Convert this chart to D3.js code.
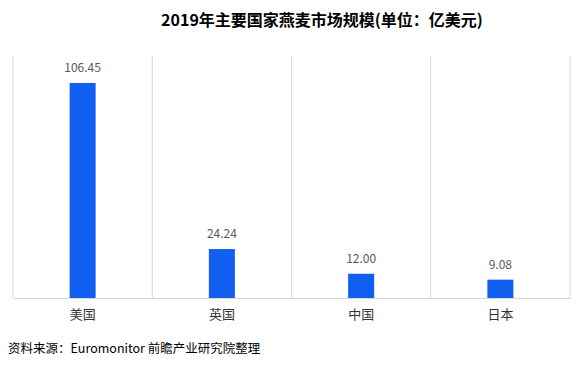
<!DOCTYPE html>
<html><head><meta charset="utf-8">
<script src="https://cdn.jsdelivr.net/npm/d3@7"></script>
<style>body{margin:0;background:#fff}</style>
</head><body>
<script>
const categories = ["美国", "英国", "中国", "日本"];
const values = [106.45, 24.24, 12.00, 9.08];
const valueLabels = ["106.45", "24.24", "12.00", "9.08"];
const title = "2019年主要国家燕麦市场规模(单位：亿美元)";
const source = "资料来源：Euromonitor 前瞻产业研究院整理";

const W = 588, H = 370;
const svg = d3.select("body").append("svg").attr("width", W).attr("height", H);
const font = "'Noto Sans CJK SC', 'Microsoft YaHei', sans-serif";

const x = d3.scaleBand().domain(categories).range([13, 570]).paddingInner(0).paddingOuter(0);
const y = d3.scaleLinear().domain([0, 119.8]).range([298, 56]);

// vertical separators
const seps = [0, 1, 2, 3, 4].map(i => 13 + i * x.bandwidth());
svg.selectAll("line.sep").data(seps).enter().append("line")
  .attr("x1", d => d).attr("x2", d => d).attr("y1", y(119.8)).attr("y2", y(0))
  .attr("stroke", "#d9d9d9").attr("stroke-width", 1);

// baseline axis
const ax = svg.append("g").attr("transform", `translate(0,${y(0)})`)
  .call(d3.axisBottom(x).tickSize(0).tickPadding(12));
ax.select(".domain").attr("stroke", "#d9d9d9");
ax.selectAll("text").attr("font-family", font).attr("font-size", 13).attr("fill", "#333");

const bw = 26;
svg.selectAll("rect.bar").data(values).enter().append("rect")
  .attr("x", (d, i) => x(categories[i]) + x.bandwidth() / 2 - bw / 2)
  .attr("width", bw)
  .attr("y", d => y(d)).attr("height", d => y(0) - y(d))
  .attr("fill", "#105ff0");

svg.selectAll("text.val").data(values).enter().append("text")
  .attr("x", (d, i) => x(categories[i]) + x.bandwidth() / 2)
  .attr("y", d => y(d) - 11)
  .attr("text-anchor", "middle")
  .attr("font-family", font).attr("font-size", 12).attr("fill", "#595959")
  .text((d, i) => valueLabels[i]);

svg.append("text").attr("x", 322).attr("y", 26).attr("text-anchor", "middle")
  .attr("font-family", font).attr("font-size", 16).attr("font-weight", "bold").attr("fill", "#000")
  .text(title);

svg.append("text").attr("x", 8).attr("y", 353)
  .attr("font-family", font).attr("font-size", 12.5).attr("fill", "#000")
  .text(source);
</script>
</body></html>
